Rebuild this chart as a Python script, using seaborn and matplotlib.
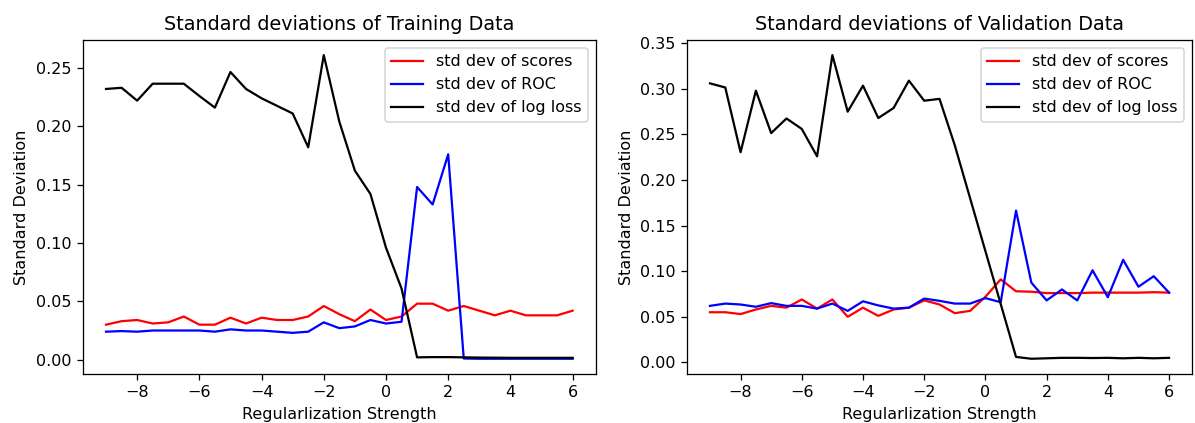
import seaborn as sns
import matplotlib.pyplot as plt

# regularization strength (log scale), same grid for both panels
reg_strength = [-9, -8.5, -8, -7.5, -7, -6.5, -6, -5.5, -5, -4.5, -4,
                 -3.5, -3, -2.5, -2, -1.5, -1, -0.5, 0,
                 0.5, 1, 1.5, 2, 2.5, 3, 3.5, 4, 4.5, 5, 5.5, 6]

# training data std devs
train_scores = [0.030, 0.033, 0.034, 0.031, 0.032, 0.037, 0.030, 0.030, 0.036, 0.031, 0.036,
                0.034, 0.034, 0.037, 0.046, 0.039, 0.033, 0.043, 0.034,
                0.037, 0.048, 0.048, 0.042, 0.046, 0.042, 0.038, 0.042, 0.038, 0.038, 0.038, 0.042]
train_roc = [0.024, 0.0245, 0.024, 0.025, 0.025, 0.025, 0.025, 0.024, 0.026, 0.025, 0.025,
             0.024, 0.023, 0.024, 0.032, 0.027, 0.0285, 0.034, 0.031,
             0.0325, 0.148, 0.133, 0.176, 0.001, 0.0008, 0.0008, 0.0008, 0.0008, 0.0008, 0.0008, 0.0008]
train_logloss = [0.232, 0.233, 0.222, 0.2365, 0.2365, 0.2365, 0.226, 0.216, 0.2465, 0.232, 0.224,
                 0.2175, 0.211, 0.182, 0.261, 0.204, 0.162, 0.142, 0.096,
                 0.061, 0.002, 0.0022, 0.0022, 0.002, 0.0018, 0.0017, 0.0016, 0.0016, 0.0016, 0.0016, 0.0016]

# validation data std devs
val_scores = [0.055, 0.055, 0.053, 0.058, 0.062, 0.060, 0.069, 0.059, 0.069, 0.050, 0.060,
              0.051, 0.058, 0.060, 0.068, 0.0635, 0.054, 0.0565, 0.072,
              0.091, 0.078, 0.0775, 0.076, 0.076, 0.076, 0.0765, 0.0765, 0.0765, 0.0765, 0.077, 0.0765]
val_roc = [0.062, 0.0645, 0.0635, 0.061, 0.065, 0.062, 0.062, 0.059, 0.0645, 0.0565, 0.067,
           0.0625, 0.059, 0.060, 0.070, 0.0675, 0.0645, 0.0645, 0.0705,
           0.066, 0.1665, 0.0875, 0.068, 0.080, 0.068, 0.101, 0.0715, 0.1125, 0.083, 0.0945, 0.0765]
val_logloss = [0.306, 0.3015, 0.2305, 0.298, 0.2515, 0.2675, 0.256, 0.226, 0.337, 0.275, 0.3035,
               0.268, 0.279, 0.309, 0.287, 0.289, 0.238, 0.180, 0.122,
               0.064, 0.006, 0.004, 0.0045, 0.005, 0.005, 0.0048, 0.005, 0.0045, 0.005, 0.0045, 0.005]

labels = ['std dev of scores', 'std dev of ROC', 'std dev of log loss']
colors = ['red', 'blue', 'black']

# slightly larger than 100 dpi so the text comes out the size of the reference
fig, axes = plt.subplots(1, 2, figsize=(1195 / 115, 423 / 115), dpi=115)
axes[0].set_position([0.0692, 0.116, 0.4295, 0.7896])
axes[1].set_position([0.5749, 0.116, 0.4226, 0.7896])

panels = [
    (axes[0], [train_scores, train_roc, train_logloss], 'Standard deviations of Training Data'),
    (axes[1], [val_scores, val_roc, val_logloss], 'Standard deviations of Validation Data'),
]

for ax, series, title in panels:
    for vals, lab, col in zip(series, labels, colors):
        sns.lineplot(x=reg_strength, y=vals, color=col, label=lab, ax=ax, linewidth=1.4)
    ax.set_title(title, fontsize=12)
    ax.set_xlabel('Regularlization Strength')
    ax.set_ylabel('Standard Deviation')
    ax.legend(loc='upper right')

fig.savefig('out.png')
